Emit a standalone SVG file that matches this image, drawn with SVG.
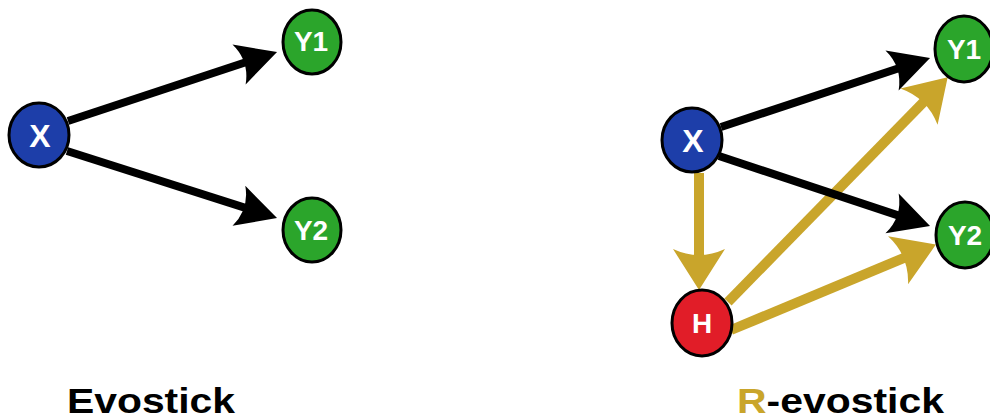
<svg xmlns="http://www.w3.org/2000/svg" width="990" height="419" viewBox="0 0 990 419">
<style>
.node{stroke:#000;stroke-width:3}
.blue{fill:#1d3ea9}.green{fill:#2ba52b}.red{fill:#e11d28}
.lbl{font-family:"Liberation Sans",Arial,sans-serif;font-weight:bold;font-size:28px;fill:#fff;text-anchor:middle}
.big{font-size:32px}
.blk{stroke:#000;stroke-width:8;fill:none;marker-end:url(#ab)}
.gld{stroke:#c9a52b;stroke-width:10;fill:none;marker-end:url(#ag)}
.title{font-family:"Liberation Sans",Arial,sans-serif;font-weight:bold;font-size:35px;fill:#000}
</style>
<defs>
<marker id="ab" markerUnits="userSpaceOnUse" orient="auto" refX="0" refY="0" markerWidth="60" markerHeight="60" viewBox="-20 -30 50 60" overflow="visible">
<path d="M25,0 L-15,-21 Q-4,0 -15,21 Z" fill="#000"/>
</marker>
<marker id="ag" markerUnits="userSpaceOnUse" orient="auto" refX="0" refY="0" markerWidth="70" markerHeight="70" viewBox="-20 -35 55 70" overflow="visible">
<path d="M26,0 L-15,-26 Q-3,0 -15,26 Z" fill="#c9a52b"/>
</marker>
</defs>
<g id="connectors">
<line class="blk" x1="68" y1="121" x2="253.3" y2="59.8"/>
<line class="blk" x1="67" y1="151" x2="253.2" y2="210.4"/>
<line class="gld" x1="699" y1="173" x2="699" y2="264"/>
<line class="gld" x1="728" y1="302" x2="929.5" y2="95.9"/>
<line class="gld" x1="731" y1="330" x2="911.9" y2="254.6"/>
<line class="blk" x1="721" y1="127" x2="906.3" y2="65.8"/>
<line class="blk" x1="719" y1="156" x2="906.3" y2="218.1"/>
</g>
<g id="node-x-left"><ellipse class="node blue" cx="39" cy="135" rx="30" ry="32"/><text class="lbl big" x="40" y="147">X</text></g>
<g id="node-y1-left"><ellipse class="node green" cx="312" cy="42" rx="29" ry="32"/><text class="lbl" x="311" y="51">Y1</text></g>
<g id="node-y2-left"><ellipse class="node green" cx="312" cy="230" rx="29" ry="32"/><text class="lbl" x="311" y="240">Y2</text></g>
<g id="node-x-right"><ellipse class="node blue" cx="692" cy="140" rx="30" ry="32"/><text class="lbl big" x="693" y="152">X</text></g>
<g id="node-y1-right"><ellipse class="node green" cx="964" cy="49" rx="29" ry="33"/><text class="lbl" x="964" y="59">Y1</text></g>
<g id="node-y2-right"><ellipse class="node green" cx="965" cy="235" rx="29" ry="33"/><text class="lbl" x="965" y="245">Y2</text></g>
<g id="node-h"><ellipse class="node red" cx="702" cy="323" rx="30" ry="33"/><text class="lbl" x="702" y="333">H</text></g>
<text class="title" x="67" y="413" textLength="168" lengthAdjust="spacingAndGlyphs">Evostick</text>
<text class="title" x="737" y="413" textLength="207" lengthAdjust="spacingAndGlyphs"><tspan fill="#c9a52b">R</tspan>-evostick</text>
</svg>
